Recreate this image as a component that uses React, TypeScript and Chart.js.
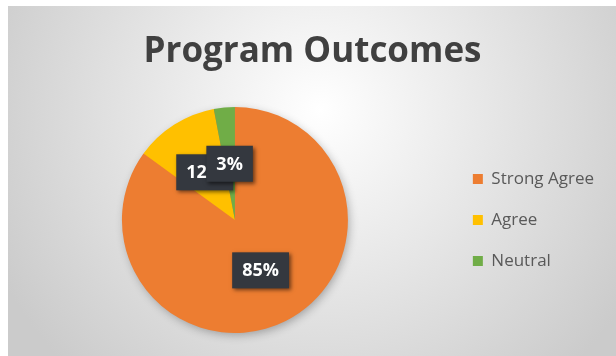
import React, { useEffect, useRef } from 'react';
import { Chart, registerables } from 'chart.js';

Chart.register(...registerables);

const chartTitle = 'Program Outcomes';
const categories = ['Strong Agree', 'Agree', 'Neutral'];
const values = [85, 12, 3];
const valueLabels = ['85%', '12%', '3%'];
const colors = ['#ED7D31', '#FFC000', '#70AD47'];

export default function App() {
  const ref = useRef<HTMLCanvasElement>(null);

  useEffect(() => {
    const canvas = ref.current as HTMLCanvasElement;

    const bgPlugin = {
      id: 'bgPlugin',
      beforeDraw(chart: any) {
        const { ctx, width, height } = chart;
        ctx.save();
        ctx.fillStyle = '#ffffff';
        ctx.fillRect(0, 0, width, height);
        const g = ctx.createRadialGradient(320, 110, 0, 320, 110, 360);
        g.addColorStop(0, '#ffffff');
        g.addColorStop(1, '#cbcbcb');
        ctx.fillStyle = g;
        ctx.fillRect(8, 6, width - 8, height - 6);
        ctx.restore();
      },
    };

    const shadowPlugin = {
      id: 'pieShadow',
      beforeDatasetsDraw(chart: any) {
        const arc = chart.getDatasetMeta(0).data[0];
        if (!arc) return;
        const { ctx } = chart;
        ctx.save();
        ctx.shadowColor = 'rgba(0,0,0,0.3)';
        ctx.shadowBlur = 10;
        ctx.shadowOffsetX = 2;
        ctx.shadowOffsetY = 3;
        ctx.beginPath();
        ctx.arc(arc.x, arc.y, arc.outerRadius - 1, 0, Math.PI * 2);
        ctx.fillStyle = colors[0];
        ctx.fill();
        ctx.restore();
      },
    };

    const labelPlugin = {
      id: 'valueLabels',
      afterDatasetsDraw(chart: any) {
        const { ctx } = chart;
        const meta = chart.getDatasetMeta(0);
        ctx.save();
        ctx.font = 'bold 18px "Open Sans"';
        ctx.textAlign = 'center';
        ctx.textBaseline = 'middle';
        meta.data.forEach((arc: any, i: number) => {
          const pos = arc.tooltipPosition();
          const text = valueLabels[i];
          const tw = ctx.measureText(text).width;
          const bw = tw + 20;
          const bh = 36;
          ctx.save();
          ctx.shadowColor = 'rgba(0,0,0,0.55)';
          ctx.shadowBlur = 4;
          ctx.shadowOffsetX = 2;
          ctx.shadowOffsetY = 2;
          ctx.fillStyle = '#34383f';
          ctx.fillRect(pos.x - bw / 2, pos.y - bh / 2, bw, bh);
          ctx.restore();
          ctx.fillStyle = '#ffffff';
          ctx.fillText(text, pos.x, pos.y + 1);
        });
        ctx.restore();
      },
    };

    const chart = new Chart(canvas, {
      type: 'pie',
      data: {
        labels: categories,
        datasets: [
          {
            data: values,
            backgroundColor: colors,
            borderWidth: 0,
          },
        ],
      },
      options: {
        responsive: false,
        animation: false,
        layout: { padding: { left: 21, right: 12, top: 0, bottom: 23 } },
        plugins: {
          title: {
            display: true,
            text: chartTitle,
            color: '#404040',
            font: { family: 'Open Sans', size: 35, weight: 'bold' },
            padding: { top: 31, bottom: 34 },
          },
          legend: {
            position: 'right',
            align: 'center',
            fullSize: false,
            labels: {
              boxWidth: 10,
              boxHeight: 10,
              padding: 24,
              color: '#595959',
              font: { family: 'Open Sans', size: 17 },
            },
          },
          tooltip: { enabled: false },
        },
      },
      plugins: [bgPlugin, shadowPlugin, labelPlugin],
    });

    return () => chart.destroy();
  }, []);

  return (
    <div style={{ position: 'fixed', left: 0, top: 0, width: 616, height: 356 }}>
      <canvas ref={ref} width={616} height={356} style={{ display: 'block' }} />
    </div>
  );
}
